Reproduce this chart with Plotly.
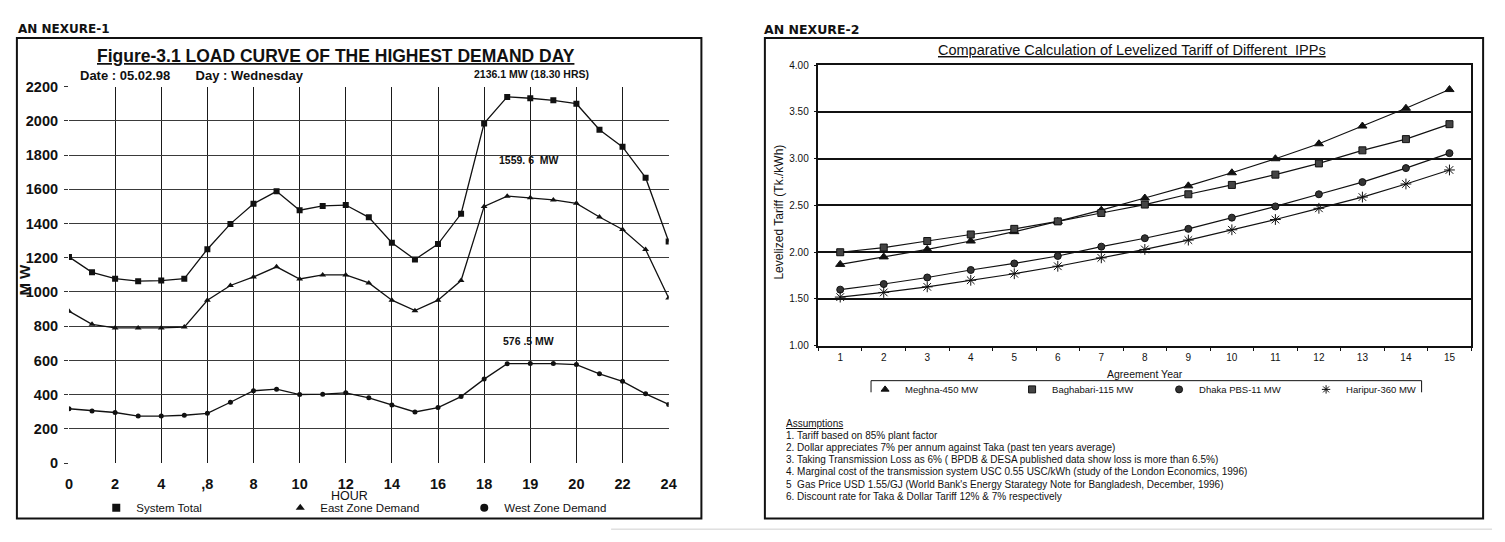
import plotly.graph_objects as go

# ---------------- data : left chart (Figure-3.1) ----------------
slots = list(range(27))
slot_tick_labels = ["0", "2", "4", ",8", "8", "10", "12", "14", "16", "18", "19", "20", "22", "24"]
system_total = [1205, 1115, 1078, 1063, 1067, 1078, 1250, 1398, 1516, 1588, 1478, 1503, 1508, 1436,
                1288, 1190, 1280, 1457, 1985, 2140, 2132, 2120, 2100, 1948, 1848, 1668, 1295]
east_zone = [888, 811, 790, 790, 790, 795, 952, 1038, 1088, 1147, 1076, 1100, 1100, 1053,
             952, 891, 952, 1067, 1500, 1560, 1550, 1538, 1518, 1438, 1365, 1248, 965]
west_zone = [318, 305, 296, 275, 275, 280, 291, 356, 423, 432, 401, 403, 411, 382,
             340, 299, 325, 389, 491, 581, 582, 582, 576, 522, 478, 405, 343]

# ---------------- data : right chart (levelized tariff) ----------------
agreement_years = [str(v) for v in range(1, 16)]
meghna = [1.87, 1.95, 2.03, 2.12, 2.22, 2.33, 2.45, 2.58, 2.71, 2.85, 3.00, 3.16, 3.35, 3.54, 3.74]
baghabari = [2.00, 2.05, 2.12, 2.19, 2.25, 2.33, 2.42, 2.51, 2.62, 2.72, 2.83, 2.95, 3.09, 3.21, 3.37]
dhaka_pbs = [1.60, 1.66, 1.73, 1.81, 1.88, 1.96, 2.06, 2.15, 2.25, 2.37, 2.49, 2.62, 2.75, 2.90, 3.06]
haripur = [1.52, 1.57, 1.63, 1.70, 1.77, 1.85, 1.94, 2.03, 2.13, 2.24, 2.35, 2.47, 2.59, 2.73, 2.88]

assumptions = [
    "1. Tariff based on 85% plant factor",
    "2. Dollar appreciates 7% per annum against Taka (past ten years average)",
    "3. Taking Transmission Loss as 6% ( BPDB & DESA published data show loss is more than 6.5%)",
    "4. Marginal cost of the transmission system USC 0.55 USC/kWh (study of the London Economics, 1996)",
    "5  Gas Price USD 1.55/GJ (World Bank's Energy Starategy Note for Bangladesh, December, 1996)",
    "6. Discount rate for Taka & Dollar Tariff 12% & 7% respectively",
]

W, H = 1505, 542


def px(x):
    return x / W


def py(y):
    return 1 - y / H


INK = "#111111"
SANS = "Liberation Sans, Arial, sans-serif"

fig = go.Figure()

# ---- left chart traces ----
left_series = [("System Total", system_total, "square", 6),
               ("East Zone Demand", east_zone, "triangle-up", 6),
               ("West Zone Demand", west_zone, "circle", 5)]
for nm, vals, sym, sz in left_series:
    fig.add_trace(go.Scatter(x=slots, y=vals, mode="lines+markers", name=nm,
                             line=dict(color=INK, width=1.3), marker=dict(symbol=sym, size=sz, color=INK),
                             xaxis="x", yaxis="y", showlegend=False))
for nm, vals, sym, sz in left_series:
    fig.add_trace(go.Scatter(x=[None], y=[None], mode="markers", name=nm,
                             marker=dict(symbol=sym, size=8, color=INK), xaxis="x", yaxis="y",
                             legend="legend", showlegend=True))

# ---- right chart traces ----
right_series = [("Meghna-450 MW", meghna, "triangle-up", 8, INK),
                ("Baghabari-115 MW", baghabari, "square", 7, "#444444"),
                ("Dhaka PBS-11 MW", dhaka_pbs, "circle", 7, "#333333"),
                ("Haripur-360 MW", haripur, "asterisk-open", 9, INK)]
for nm, vals, sym, sz, col in right_series:
    fig.add_trace(go.Scatter(x=agreement_years, y=vals, mode="lines+markers", name=nm,
                             line=dict(color=INK, width=1.2),
                             marker=dict(symbol=sym, size=sz, color=col, line=dict(color=INK, width=1)),
                             xaxis="x2", yaxis="y2", showlegend=False))
for nm, vals, sym, sz, col in right_series:
    fig.add_trace(go.Scatter(x=[None], y=[None], mode="markers", name=nm,
                             marker=dict(symbol=sym, size=7, color=col, line=dict(color=INK, width=1)),
                             xaxis="x2", yaxis="y2", legend="legend2", showlegend=True))

fig.update_layout(
    width=W, height=H, margin=dict(l=0, r=0, t=0, b=0),
    paper_bgcolor="white", plot_bgcolor="white",
    xaxis=dict(domain=[px(65.5), px(670)], range=[0, 26], tickmode="array", anchor="y",
               tickvals=slots[::2], ticktext=slot_tick_labels,
               showgrid=True, gridcolor="#1a1a1a", gridwidth=1.4, zeroline=False, showline=False,
               ticks="", ticklabelstandoff=10,
               tickfont=dict(family=SANS, size=14.5, color=INK, weight="bold")),
    yaxis=dict(domain=[py(469), py(81)], range=[0, 2200], dtick=200, anchor="x",
               showgrid=True, gridcolor="#3a3a3a", gridwidth=1.3, zeroline=False, showline=False,
               ticks="outside", ticklen=4, tickcolor="#333", ticklabelstandoff=3,
               tickfont=dict(family=SANS, size=14.5, color=INK, weight="bold")),
    xaxis2=dict(domain=[px(821), px(1479)], type="category", range=[-0.5, 14.5], anchor="y2",
                showgrid=False, zeroline=False, showline=True, linecolor=INK, linewidth=1.5, mirror=True,
                ticks="outside", tickson="boundaries", ticklen=4, tickcolor=INK, ticklabelstandoff=2,
                tickfont=dict(family=SANS, size=10, color=INK)),
    yaxis2=dict(domain=[py(348), py(59)], range=[1, 4], dtick=0.5, tickformat=".2f", anchor="x2",
                showgrid=True, gridcolor=INK, gridwidth=2, zeroline=False,
                showline=True, linecolor=INK, linewidth=1.5, mirror=True,
                ticks="outside", ticklen=3, tickcolor=INK, ticklabelstandoff=3,
                tickfont=dict(family=SANS, size=10, color=INK)),
    legend=dict(orientation="h", x=px(93), y=py(515), xanchor="left", yanchor="middle",
                entrywidth=139, entrywidthmode="pixels", bgcolor="rgba(0,0,0,0)",
                font=dict(family=SANS, size=11.5, color=INK), itemwidth=30),
    legend2=dict(orientation="h", x=px(868), y=py(393), xanchor="left", yanchor="middle",
                 entrywidth=102, entrywidthmode="pixels", bgcolor="rgba(0,0,0,0)",
                 font=dict(family=SANS, size=9.5, color=INK), itemwidth=30),
)


def text_at(x, y, text, size, anchor="center", family=SANS, angle=0):
    return dict(x=px(x), y=py(y), xref="paper", yref="paper", xanchor=anchor, yanchor="middle",
                text=text, showarrow=False, textangle=angle,
                font=dict(family=family, size=size, color=INK))


ann = [
    text_at(12, 22, "<b>AN NEXURE-1</b>", 12, "left", "DejaVu Sans, sans-serif"),
    text_at(335, 49, "<b><u>Figure-3.1 LOAD CURVE OF THE HIGHEST DEMAND DAY</u></b>", 17.5),
    text_at(75, 70, "<b>Date : 05.02.98       Day : Wednesday</b>", 13, "left"),
    text_at(592, 68, "<b>2136.1 MW (18.30 HRS)</b>", 10.5, "right"),
    text_at(529, 157, "<b>1559. 6  MW</b>", 10.5),
    text_at(529, 343, "<b>576 .5 MW</b>", 10.5),
    text_at(21, 280, "<b>M W</b>", 15, angle=-90),
    text_at(348, 503, "HOUR", 12.5),
    text_at(764, 22, "<b>AN NEXURE-2</b>", 12.5, "left", "DejaVu Sans, sans-serif"),
    text_at(1137, 43, "<u>Comparative Calculation of Levelized Tariff of Different  IPPs</u>", 14.5),
    text_at(781, 210, "Levelized Tariff (Tk./kWh)", 12, angle=-90),
    text_at(1150, 377, "Agreement Year", 10.5),
    text_at(786, 428, "<u>Assumptions</u>", 10, "left"),
]
for i, line in enumerate(assumptions):
    ann.append(text_at(786, 440.5 + 12.5 * i, line, 10, "left"))
fig.update_layout(annotations=ann)

shapes = [
    dict(type="rect", xref="paper", yref="paper", x0=px(13), x1=px(703), y0=py(31), y1=py(526),
         line=dict(color=INK, width=2)),
    dict(type="rect", xref="paper", yref="paper", x0=px(767), x1=px(1491), y0=py(31), y1=py(526),
         line=dict(color=INK, width=2)),
    dict(type="path", xref="paper", yref="paper",
         path=f"M {px(874)} {py(396)} L {px(874)} {py(384)} L {px(1429)} {py(384)} L {px(1429)} {py(396)}",
         line=dict(color=INK, width=1)),
    dict(type="line", xref="paper", yref="paper", x0=px(612), x1=px(1500), y0=py(537), y1=py(537),
         line=dict(color="#cfcfcf", width=1)),
]
fig.update_layout(shapes=shapes)

fig.write_html("out.html", config={"displayModeBar": False},
               post_script="document.body.style.margin='0px';document.body.style.overflow='hidden';")
